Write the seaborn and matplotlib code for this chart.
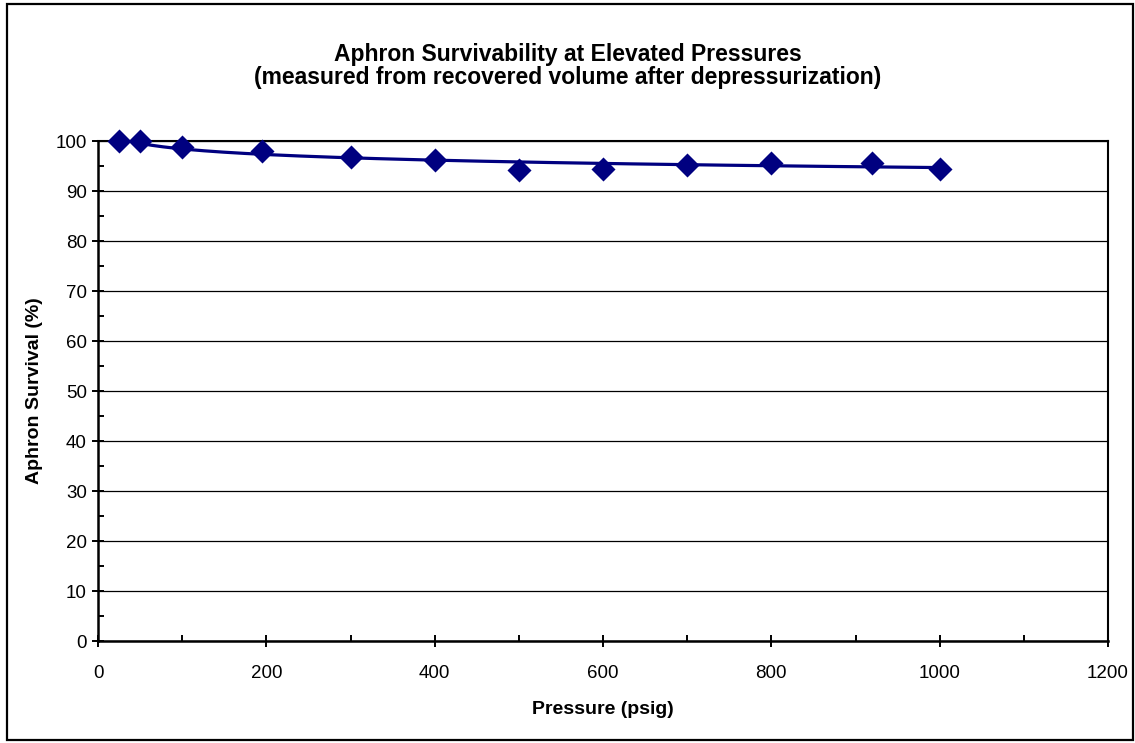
import matplotlib

matplotlib.use("Agg")
import matplotlib.pyplot as plt
import numpy as np
import pandas as pd
import seaborn as sns
from matplotlib.patches import Rectangle
from matplotlib.ticker import MultipleLocator

# Data
pressure_psig = [25, 50, 100, 195, 300, 400, 500, 600, 700, 800, 920, 1000]
survival_pct = [100.0, 100.0, 98.8, 98.1, 96.8, 96.3, 94.3, 94.4, 95.3, 95.7, 95.7, 94.5]

title_text = "Aphron Survivability at Elevated Pressures\n(measured from recovered volume after depressurization)"
x_label = "Pressure (psig)"
y_label = "Aphron Survival (%)"

navy = "#000080"

sns.set_style("white")
plt.rcParams["font.family"] = ["Liberation Sans", "DejaVu Sans"]
plt.rcParams["text.color"] = "black"
plt.rcParams["axes.labelcolor"] = "black"

df = pd.DataFrame({"pressure": pressure_psig, "survival": survival_pct})

# Logarithmic trendline (as Excel draws it) fitted to the points
coef = np.polyfit(np.log(df["pressure"]), df["survival"], 1)
trend_x = np.linspace(df["pressure"].min(), df["pressure"].max(), 300)
trend = pd.DataFrame({"pressure": trend_x, "survival": coef[0] * np.log(trend_x) + coef[1]})

fig = plt.figure(figsize=(11.35, 7.43), dpi=100)
ax = fig.add_axes([98 / 1135, 1 - 641 / 743, 1010 / 1135, 500 / 743])

sns.lineplot(data=trend, x="pressure", y="survival", color=navy, linewidth=2.3, ax=ax, zorder=3)
sns.scatterplot(
    data=df, x="pressure", y="survival", marker="D", s=150, color=navy,
    edgecolor=navy, linewidth=0, ax=ax, zorder=4, clip_on=False,
)

ax.set_xlim(0, 1200)
ax.set_ylim(0, 100)
ax.xaxis.set_major_locator(MultipleLocator(200))
ax.xaxis.set_minor_locator(MultipleLocator(100))
ax.yaxis.set_major_locator(MultipleLocator(10))
ax.yaxis.set_minor_locator(MultipleLocator(5))

ax.grid(axis="y", which="major", color="black", linewidth=0.9)
ax.set_axisbelow(True)

ax.tick_params(axis="both", which="major", direction="inout", length=8, width=1.4,
               labelsize=13.5, pad=4, colors="black", bottom=True, left=True)
ax.tick_params(axis="both", which="minor", direction="in", length=4, width=1.4,
               colors="black", bottom=True, left=True)
ax.tick_params(axis="x", which="major", pad=13)

for side, spine in ax.spines.items():
    spine.set_visible(True)
    spine.set_color("black")
    spine.set_linewidth(1.8 if side in ("left", "bottom") else 1.5)

ax.set_xlabel(x_label, fontsize=14, fontweight="bold", labelpad=14)
ax.set_ylabel(y_label, fontsize=14, fontweight="bold", labelpad=9)

fig.text(0.5, 1 - 66 / 743, title_text, ha="center", va="center",
         fontsize=16.5, fontweight="bold", linespacing=0.98)

# Chart-area frame
fig.patches.append(Rectangle((7 / 1135, 3 / 743), 1126 / 1135, 736 / 743,
                             transform=fig.transFigure, fill=False,
                             edgecolor="black", linewidth=1.6))

fig.savefig("out.png", dpi=100)
plt.close(fig)
